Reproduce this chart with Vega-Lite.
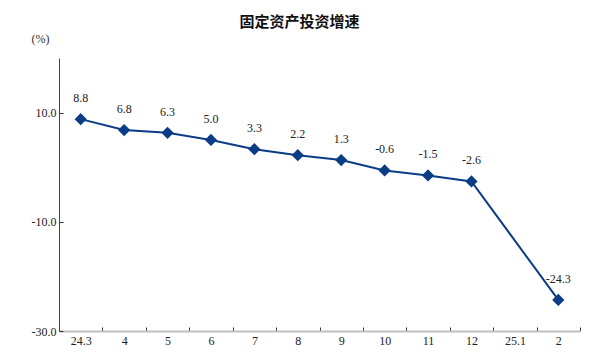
{
  "$schema": "https://vega.github.io/schema/vega-lite/v6.json",
  "autosize": "none",
  "width": 521,
  "height": 273,
  "padding": {"left": 59, "top": 58, "right": 20, "bottom": 31},
  "background": "white",
  "title": {
    "text": "固定资产投资增速",
    "font": "Noto Sans CJK SC",
    "fontSize": 15,
    "fontWeight": "bold",
    "color": "#111",
    "anchor": "middle",
    "frame": "group",
    "dx": -20,
    "offset": 2
  },
  "config": {
    "view": {"stroke": null},
    "font": "Liberation Serif",
    "locale": {"number": {"decimal": ".", "thousands": ",", "grouping": [3], "currency": ["", ""], "minus": "-"}}
  },
  "data": {
    "values": [
      {"m": "24.3", "v": 8.8},
      {"m": "4", "v": 6.8},
      {"m": "5", "v": 6.3},
      {"m": "6", "v": 5.0},
      {"m": "7", "v": 3.3},
      {"m": "8", "v": 2.2},
      {"m": "9", "v": 1.3},
      {"m": "10", "v": -0.6},
      {"m": "11", "v": -1.5},
      {"m": "12", "v": -2.6},
      {"m": "2", "v": -24.3}
    ]
  },
  "encoding": {
    "x": {
      "field": "m",
      "type": "nominal",
      "sort": null,
      "scale": {"domain": ["24.3", "4", "5", "6", "7", "8", "9", "10", "11", "12", "25.1", "2"], "paddingInner": 0, "paddingOuter": 0},
      "axis": {
        "title": null,
        "labelAngle": 0,
        "labelFont": "Liberation Serif",
        "labelFontSize": 12,
        "labelColor": "#222",
        "labelPadding": 8,
        "domainColor": "#c0c0c0",
        "domainWidth": 2,
        "tickBand": "extent",
        "tickColor": "#333",
        "tickSize": -4,
        "tickWidth": 1,
        "grid": false
      }
    },
    "y": {
      "field": "v",
      "type": "quantitative",
      "scale": {"domain": [-30, 20], "nice": false, "zero": false},
      "axis": {
        "title": "(%)",
        "titleAngle": 0,
        "titleX": -19,
        "titleY": -20,
        "titleAlign": "center",
        "titleBaseline": "middle",
        "titleFont": "Liberation Serif",
        "titleFontSize": 12,
        "titleFontWeight": "normal",
        "titleColor": "#333",
        "values": [-30, -10, 10],
        "format": ".1f",
        "labelFont": "Liberation Serif",
        "labelFontSize": 12,
        "labelColor": "#222",
        "labelPadding": 7,
        "domainColor": "#444",
        "domainWidth": 1,
        "tickColor": "#333",
        "tickSize": -4,
        "grid": false
      }
    }
  },
  "layer": [
    {
      "mark": {"type": "line", "color": "#0a3d86", "strokeWidth": 2}
    },
    {
      "mark": {"type": "point", "shape": "diamond", "filled": true, "size": 150, "color": "#0a3d86", "opacity": 1}
    },
    {
      "mark": {"type": "text", "dy": -21, "font": "Liberation Serif", "fontSize": 12, "color": "#222"},
      "encoding": {"text": {"field": "v", "type": "quantitative", "format": ".1f"}}
    }
  ]
}
